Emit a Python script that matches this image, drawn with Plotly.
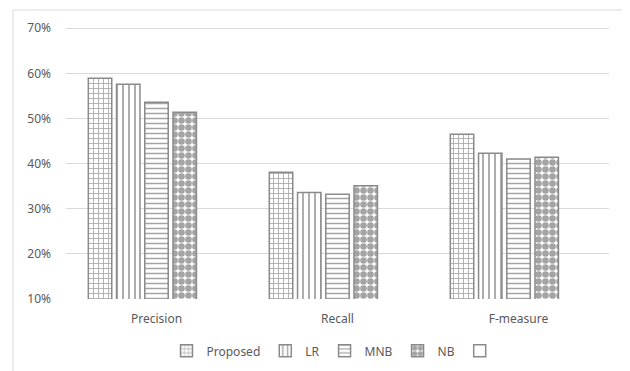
import plotly.graph_objects as go

categories = ["Precision", "Recall", "F-measure"]
proposed = [58.9, 38.1, 46.5]
lr = [57.6, 33.6, 42.3]
mnb = [53.6, 33.2, 41.0]
nb = [51.4, 35.1, 41.4]
empty = [None, None, None]
tick_vals = [10, 20, 30, 40, 50, 60, 70]
tick_text = ["10%", "20%", "30%", "40%", "50%", "60%", "70%"]

series = [
    ("Proposed", proposed, "+", 5, 0.3),
    ("LR", lr, "|", 6, 0.3),
    ("MNB", mnb, "-", 5, 0.3),
    ("NB", nb, ".", 7, 0.7),
]

fig = go.Figure()
for name, vals, shape, size, sol in series:
    fig.add_trace(go.Bar(
        x=categories, y=vals, name=name,
        marker=dict(
            color="white",
            line=dict(color="#8a8a8a", width=1.5),
            pattern=dict(shape=shape, fgcolor="#4a4a4a", bgcolor="white",
                         size=size, solidity=sol, fillmode="overlay"),
        ),
    ))
fig.add_trace(go.Bar(
    x=categories, y=empty, name=" ", showlegend=True,
    marker=dict(color="white", line=dict(color="#8a8a8a", width=1.5)),
))

fig.update_layout(
    width=622, height=363,
    margin=dict(l=58, r=21, t=18, b=72, autoexpand=False),
    paper_bgcolor="white", plot_bgcolor="white",
    barmode="group", bargap=0.22, bargroupgap=0.17,
    font=dict(family="Noto Sans", size=11, color="#595959"),
    showlegend=True,
    legend=dict(orientation="h", x=0.5, xanchor="center", y=-0.19, yanchor="middle",
                font=dict(size=12, color="#595959"), itemwidth=30, traceorder="normal",
                tracegroupgap=0),
    xaxis=dict(showgrid=False, showline=False, ticks="", tickfont=dict(size=12),
               automargin=False, ticklabelstandoff=11),
    yaxis=dict(range=[10, 70.5], tickvals=tick_vals, ticktext=tick_text,
               gridcolor="#d9d9d9", gridwidth=1, zeroline=False, showline=False,
               ticks="", tickfont=dict(size=12), ticklabelstandoff=14, automargin=False),
    shapes=[dict(type="rect", xref="paper", yref="paper",
                 x0=-0.0976, x1=1.035, y0=-0.28, y1=1.0586,
                 line=dict(color="#d9d9d9", width=1), fillcolor="rgba(0,0,0,0)",
                 layer="below")],
)

fig.write_html("out.html")
